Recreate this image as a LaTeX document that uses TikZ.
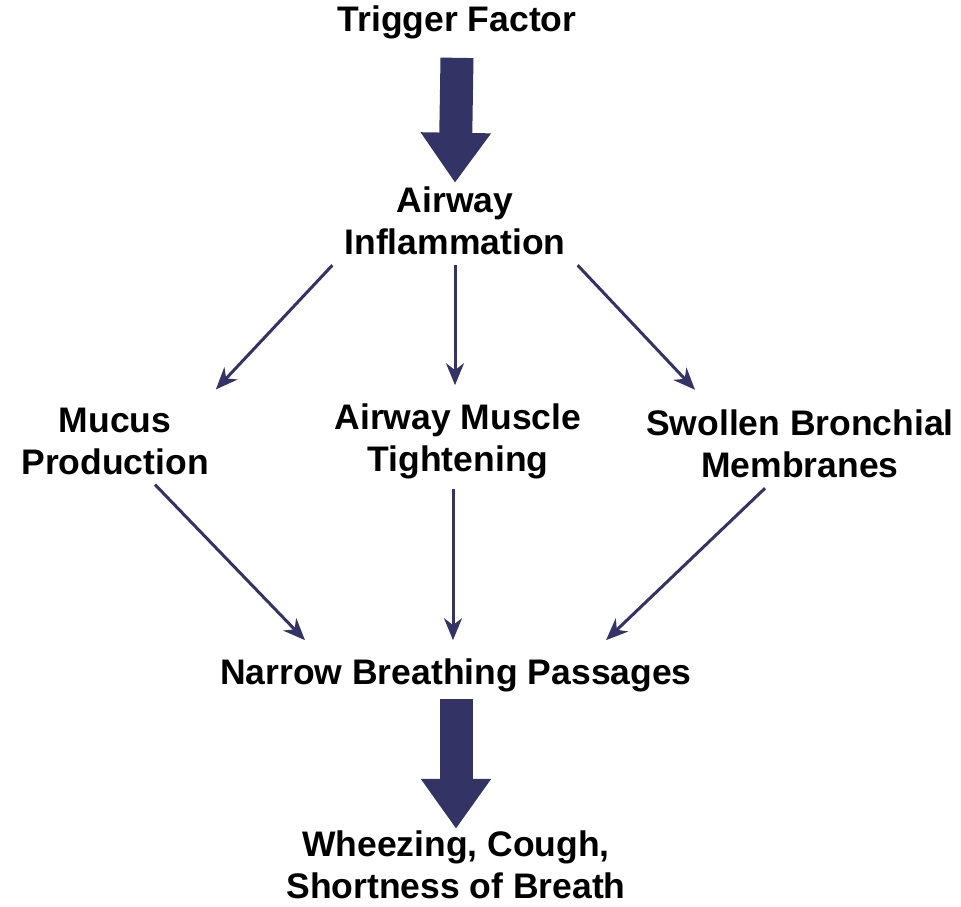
\documentclass[tikz,border=0pt]{standalone}
\usepackage{fontspec}
\setmainfont{Liberation Sans}
\usepackage{tikz}
\usetikzlibrary{arrows.meta, positioning}
\definecolor{navycolor}{RGB}{51,51,102}
\tikzset{
  stage/.style={font=\fontsize{35.5}{42}\selectfont\bfseries, align=center,
                inner sep=2pt, text=black},
  thinarrow/.style={-{Stealth[length=22pt,width=18pt,inset=7pt]},
                    line width=3pt, draw=navycolor},
  bigarrow/.style={-{Triangle[length=50pt,width=67pt]}, line width=33pt,
                   draw=navycolor},
}
\begin{document}
\begin{tikzpicture}[x=1pt, y=-1pt]
  \useasboundingbox (0,0) rectangle (961,906);

  \node[stage] (trigger) at (457,22) {Trigger Factor};
  \node[stage] (infl) at (455,221) {Airway\\Inflammation};

  % middle row
  \node[stage] (mucus) at (115,441) {Mucus\\Production};
  \node[stage] (muscle) at (458,441) {Airway Muscle\\Tightening};
  \node[stage] (swollen) at (800,444) {Swollen Bronchial\\Membranes};

  \node[stage] (narrow) at (456,675) {Narrow Breathing Passages};
  \node[stage] (wheeze) at (456,865) {Wheezing, Cough,\\Shortness of Breath};

  \draw[bigarrow] ([yshift=-17pt]trigger.south) -- ([yshift=2pt]infl.north);
  \draw[bigarrow] ([yshift=-5pt]narrow.south) -- ([yshift=0pt]wheeze.north);

  \draw[thinarrow] ([xshift=-10pt,yshift=-8pt]infl.south west) -- ([xshift=5pt,yshift=16pt]mucus.north east);
  \draw[thinarrow] ([yshift=-8pt]infl.south) -- ([xshift=-3pt,yshift=16pt]muscle.north);
  \draw[thinarrow] ([xshift=10pt,yshift=-8pt]infl.south east) -- ([xshift=-105pt,yshift=18pt]swollen.north);
  \draw[thinarrow] ([xshift=40pt,yshift=-8pt]mucus.south) -- ([xshift=-151pt,yshift=16pt]narrow.north);
  \draw[thinarrow] ([xshift=-5pt,yshift=-8pt]muscle.south) -- ([xshift=-3pt,yshift=16pt]narrow.north);
  \draw[thinarrow] ([xshift=-35pt,yshift=-8pt]swollen.south) -- ([xshift=150pt,yshift=16pt]narrow.north);
\end{tikzpicture}
\end{document}
